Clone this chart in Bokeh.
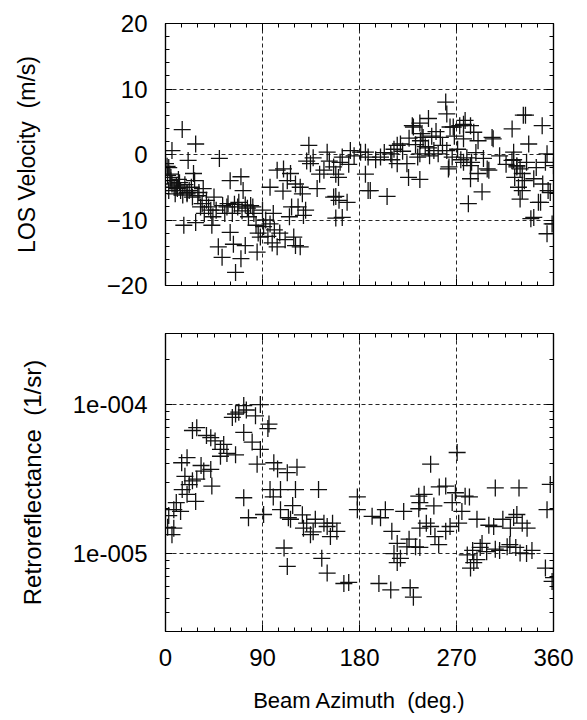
from bokeh.plotting import figure
from bokeh.layouts import column
from bokeh.models import (FixedTicker, LinearAxis, LogAxis, Range1d, CustomJSTickFormatter)
from bokeh.embed import file_html
from bokeh.resources import INLINE

# ---- data ----
x_ticks = [0, 90, 180, 270, 360]
vel_ticks = [-20, -10, 0, 10, 20]
ret_ticks = [1e-5, 1e-4]

vel_az = [0, 1.5, 3, 4, 5, 5, 6, 8, 10, 13, 14, 15.5, 17, 20, 20, 21, 24, 26, 28, 28, 30, 32.5, 35, 38,
          42, 43, 45, 49, 50, 52.5, 53, 57, 60, 60, 63, 65, 67, 70, 70, 72, 74, 76, 79, 82, 85, 88, 90,
          93, 97, 97, 100, 103.6, 103.6, 106, 109, 109.5, 113, 116, 119, 120.6, 120.6, 125, 125, 128,
          130, 133, 134.5, 140.7, 147, 150, 156, 156, 158, 158, 160.5, 161, 162, 164, 164, 168.5,
          171.5, 181, 185.5, 185.5, 188, 188, 190, 199.5, 205.6, 209, 210, 215, 215, 218, 224, 225.5,
          229, 230, 234, 236, 236, 236, 236.5, 239, 244, 244, 245, 249, 253, 255, 260, 261, 261,
          262.5, 263, 264, 266, 267, 273, 276.5, 276.5, 276.5, 278, 279.6, 281, 283, 283, 283, 284,
          286, 290, 290, 293.7, 298.5, 300, 303, 304, 321.6, 321.5, 323, 323, 326, 326, 327.5, 329,
          329, 331, 331, 332, 334, 335, 337, 339, 341.7, 341.7, 346, 348, 349.5, 352.5, 354, 354,
          355, 357, 358.7, 360, 360,
          2, 3, 6, 9, 11, 12, 16, 18, 22, 25, 27, 31, 34, 36, 40, 44, 47, 55, 58, 62, 64, 68, 71, 74,
          77, 81, 84, 86, 91, 95, 99, 101, 111, 115, 117, 123, 127, 131, 137, 143, 152, 158, 170, 175,
          195, 203, 212, 220, 226, 232, 238, 241, 247, 251, 257, 268, 271, 274, 288, 295, 310, 316,
          324, 333, 344, 350]
vel_ms = [-1.4, -1.8, -2, -3, -3.5, -4, 0.6, -5, -4.8, -4.3, -5.5, 3.8, -10.8, -5.8, -6, -0.9, -5, -2.9,
          1.6, -10.4, -6.3, -8, -5.2, -7, -8.5, -10.8, -6.5, -14.1, -0.6, -15.7, -7.8, -8, -4, -11.9,
          -13.7, -18, -8, -3.4, -15.9, -5.5, -13.9, -8.2, -7.8, -9, -14.9, -12.6, -8.5, -10, -10.6,
          -5, -9, -2.4, -14.1, -12, -5.6, -2.2, -4, -2.9, -12.6, -4.5, -13.9, -14.1, -5, -9.3, -8.5,
          1.4, -1.4, -5.2, -2.4, 0.35, -1.9, -6.5, -6.4, -9.7, -3.5, -7, -1.2, -0.4, -9.6, -7.3,
          0.6, 0.35, -3, 0.35, -0.4, -5.5, -5.5, -0.4, -6.4, 0.1, -0.8, -1.4, 1.4, 1.6, -1.4, -3.5,
          4.4, 4.2, -0.4, 4.8, -3.8, 0.1, 2.1, 2.6, 5.5, 1, -0.2, 0.6, 0.1, 2.6, 8, 0.6, 6.2,
          -2.2, -1.9, 4.2, -0.4, 4.2, 4.4, 4.6, 2.4, -1.2, 5.2, -0.5, -7.5, 4.4, -1.7, -3.7, -1.2,
          3.4, 2.1, -2.9, -5.7, -2.2, -2.4, 2.6, 2.4, 3.9, -0.9, 0.35, -0.8, -1.7, -1.9, -5, -2.2,
          -6.8, -2.9, -5.5, 6, 6, -1.2, 1.6, -9.8, -3.7, -9.6, -7.3, -7.3, 4.4, -1.2, 0.1, -12.1,
          -5.5, -5.8, -10.6, -1.7, -10.6,
          -3.2, -5.5, -4.5, -6, -5.2, -3.8, -6.2, -4.6, -5.5, -6.5, -4, -5.8, -7.5, -9, -8, -9.5,
          -8.5, -9, -7.5, -9, -7.6, -7.3, -8.6, -7.7, -9.5, -8, -10.8, -12, -11, -12.5, -13.5, -11.5,
          -13, -9.5, -8, -8, -6, -1, -0.5, -3, -1, -3, -1.5, -0.2, -0.8, 0.3, 0.8, 0.5, 2.5, 1.5,
          3.2, 1.2, 2.8, 3.5, 1.4, 2.8, 0.8, -0.8, 0.3, -0.6, -0.2, -1.5, -3.5, -4, -2, -4.5]

ret_az = [2, 6, 7.7, 7.7, 14, 15, 15.5, 20, 20, 25, 25, 28, 29, 29, 35.5, 42, 42, 43, 51, 51, 54, 62,
          65, 65, 72.6, 72.6, 72.6, 77, 80.4, 83.5, 85, 88, 88, 91, 95, 96, 97, 100.5, 106.7, 106.7,
          110, 113, 113, 114, 116, 120.6, 122, 127, 128, 134.5, 139, 142, 145, 150, 150, 155, 159,
          165.5, 170, 178, 178, 191.7, 198, 199.5, 204, 209, 210, 215, 215, 218, 221, 224, 227, 230,
          232, 235, 235, 236, 236, 236, 240, 246, 246, 249, 253.5, 254, 260, 260, 264, 269, 270.6,
          275, 278, 280, 282, 283, 286, 289, 289, 293.7, 298, 304.5, 306, 306, 317, 319.5, 320, 323,
          326, 328, 329, 335, 335.5, 352.5, 354, 357, 358.7, 360,
          3, 10, 18, 22, 33, 38, 46, 57, 68, 75, 100, 104, 118, 131, 137, 147, 153, 212, 226, 242,
          250, 266, 272, 285, 292, 300, 310, 313, 325, 331, 340]
ret_sr = [1.5e-5, 1.34e-5, 1.48e-5, 1.97e-5, 1.92e-5, 4.07e-5, 2.69e-5, 4.4e-5, 2.5e-5, 6.7e-5, 3.08e-5,
          2.24e-5, 7.0e-5, 3.16e-5, 3.58e-5, 6.0e-5, 3.67e-5, 2.84e-5, 5.0e-5, 4.5e-5, 5.4e-5, 8.2e-5,
          8.65e-5, 4.6e-5, 9.85e-5, 6.5e-5, 2.37e-5, 1.74e-5, 5.6e-5, 8.4e-5, 3.98e-5, 1.0e-4, 5.0e-5,
          1.83e-5, 6.9e-5, 7.4e-5, 2.69e-5, 4.07e-5, 2.69e-5, 1.97e-5, 1.09e-5, 3.49e-5, 8.2e-6,
          1.74e-5, 1.7e-5, 2.69e-5, 3.8e-5, 1.82e-5, 1.48e-5, 1.34e-5, 1.7e-5, 2.69e-5, 9.3e-6,
          1.52e-5, 7.4e-6, 1.6e-5, 1.41e-5, 6.3e-6, 6.4e-6, 2.4e-5, 1.97e-5, 1.78e-5, 6.3e-6, 1.74e-5,
          1.97e-5, 5.7e-6, 1.41e-5, 1.17e-5, 8.7e-6, 9.3e-6, 1.92e-5, 1.11e-5, 5.9e-6, 5.1e-6, 1.11e-5,
          2.0e-5, 2.43e-5, 2.2e-5, 1.48e-5, 1.1e-5, 2.5e-5, 3.98e-5, 1.52e-5, 2.09e-5, 1.15e-5, 2.8e-5,
          2.84e-5, 1.41e-5, 1.52e-5, 2.56e-5, 4.77e-5, 1.92e-5, 2.43e-5, 9.8e-6, 2.4e-5, 8.0e-6,
          8.7e-6, 1.7e-5, 9.1e-6, 1.17e-5, 1.03e-5, 1.52e-5, 2.76e-5, 1.07e-5, 1.11e-5, 1.15e-5,
          1.48e-5, 1.75e-5, 1.83e-5, 2.76e-5, 1.01e-5, 1.0e-5, 1.48e-5, 8.0e-6, 1.97e-5, 2.91e-5,
          6.5e-6, 6.9e-6,
          1.8e-5, 2.2e-5, 3.3e-5, 2.9e-5, 3.9e-5, 6.2e-5, 5.7e-5, 4.7e-5, 8.9e-5, 9.2e-5, 2.4e-5,
          3.7e-5, 2.1e-5, 1.6e-5, 1.4e-5, 1.6e-5, 1.3e-5, 1.0e-5, 1.25e-5, 1.6e-5, 1.3e-5, 2.2e-5,
          1.6e-5, 1.05e-5, 1.1e-5, 1.55e-5, 1.05e-5, 1.7e-5, 1.1e-5, 1.6e-5, 1.05e-5]

FONT = "Liberation Sans"
INK = "#111111"


def style_axis(ax, labels=True):
    ax.major_tick_in = 7
    ax.major_tick_out = 0
    ax.minor_tick_in = 4
    ax.minor_tick_out = 0
    ax.axis_line_color = "black"
    ax.axis_line_width = 1.2
    ax.major_tick_line_color = "black"
    ax.minor_tick_line_color = "black"
    ax.major_label_text_font = FONT
    ax.axis_label_text_font = FONT
    ax.axis_label_text_font_style = "normal"
    ax.axis_label_text_color = "black"
    ax.axis_label_text_font_size = "23px"
    if labels:
        ax.major_label_text_font_size = "24px"
        ax.major_label_text_color = "black"
    else:
        ax.major_label_text_font_size = "8px"
        ax.major_label_text_color = None
        ax.major_label_standoff = 0


def style_grid(p):
    for g in (p.xgrid, p.ygrid):
        g.grid_line_color = "black"
        g.grid_line_dash = "4 3"
        g.grid_line_width = 1
        g.grid_line_alpha = 0.85


x_ticker = FixedTicker(ticks=x_ticks, minor_ticks=list(range(0, 361, 15)))

# ---------------- top panel ----------------
p1 = figure(frame_width=388, frame_height=262, x_range=Range1d(0, 360), y_range=Range1d(-20, 20),
            output_backend="svg", toolbar_location=None,
            min_border_left=165, min_border_right=34, min_border_top=23, min_border_bottom=25)
p1.outline_line_color = "black"
p1.outline_line_width = 1.2
vt = FixedTicker(ticks=vel_ticks, minor_ticks=list(range(-20, 21, 2)))
p1.xaxis.ticker = x_ticker
p1.yaxis.ticker = vt
style_axis(p1.xaxis[0], labels=False)
style_axis(p1.yaxis[0])
p1.yaxis.axis_label = "LOS Velocity \u00a0(m/s)"
p1.yaxis.major_label_standoff = 18
p1.yaxis.axis_label_standoff = 64
ra = LinearAxis(ticker=vt)
style_axis(ra, labels=False)
p1.add_layout(ra, "right")
ta = LinearAxis(ticker=x_ticker)
style_axis(ta, labels=False)
p1.add_layout(ta, "above")
style_grid(p1)
p1.scatter(x=vel_az, y=vel_ms, marker="cross", size=17, line_color=INK, line_width=1.3)

# ---------------- bottom panel ----------------
p2 = figure(frame_width=388, frame_height=298, x_range=Range1d(0, 360), y_range=Range1d(3e-6, 3e-4),
            y_axis_type="log", output_backend="svg", toolbar_location=None,
            min_border_left=165, min_border_right=34, min_border_top=23, min_border_bottom=89)
p2.outline_line_color = "black"
p2.outline_line_width = 1.2
minor_log = [m * 10.0 ** e for e in (-6, -5, -4) for m in range(2, 10)]
rt = FixedTicker(ticks=ret_ticks, minor_ticks=minor_log)
fmt = CustomJSTickFormatter(code="""
const e = Math.round(Math.log10(tick));
const s = String(Math.abs(e)).padStart(3, '0');
return '1e' + (e < 0 ? '-' : '+') + s;
""")
p2.xaxis.ticker = x_ticker
p2.yaxis.ticker = rt
p2.yaxis.formatter = fmt
style_axis(p2.xaxis[0])
style_axis(p2.yaxis[0])
p2.xaxis.axis_label = "Beam Azimuth \u00a0(deg.)"
p2.xaxis.axis_label_text_font_size = "22px"
p2.xaxis.major_label_standoff = 17
p2.xaxis.axis_label_standoff = 19
p2.yaxis.axis_label = "Retroreflectance \u00a0(1/sr)"
p2.yaxis.axis_label_text_font_size = "24px"
p2.yaxis.major_label_standoff = 18
p2.yaxis.axis_label_standoff = 24
ra2 = LogAxis(ticker=rt)
style_axis(ra2, labels=False)
p2.add_layout(ra2, "right")
ta2 = LinearAxis(ticker=x_ticker)
style_axis(ta2, labels=False)
p2.add_layout(ta2, "above")
style_grid(p2)
p2.scatter(x=ret_az, y=ret_sr, marker="cross", size=17, line_color=INK, line_width=1.3)

layout = column(p1, p2, spacing=0)
open("out.html", "w").write(file_html(layout, INLINE))
